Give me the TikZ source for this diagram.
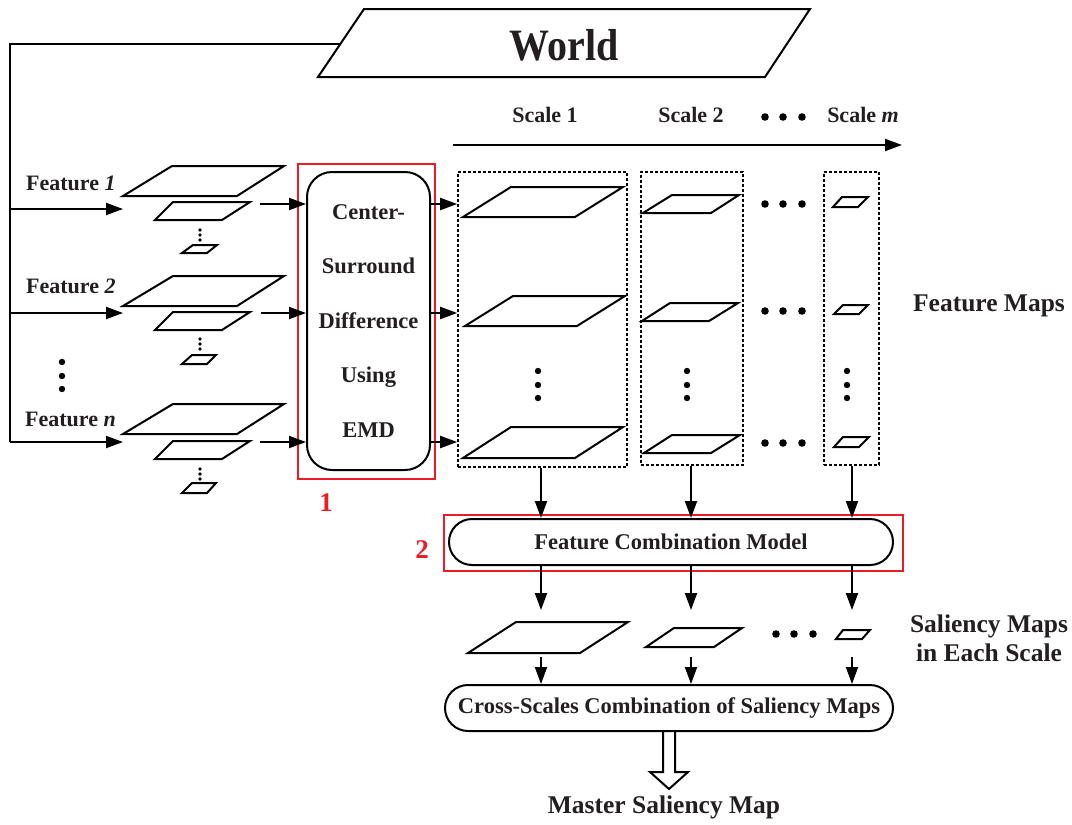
\documentclass[tikz,border=0pt]{standalone}
\usepackage{fontspec}
\setmainfont{Liberation Serif}
\usetikzlibrary{arrows.meta,calc}
\definecolor{redbox}{RGB}{237,28,36}
\definecolor{txt}{RGB}{35,31,32}
\newcommand\pgm[6]{\draw[shp] (#1,#3) -- (#2,#3) -- (#5,#6) -- (#4,#6) -- cycle;}
\begin{document}
\begin{tikzpicture}[x=1pt,y=-1pt,
  shp/.style={draw=black,line width=2pt,line join=miter},
  ln/.style={draw=black,line width=2pt},
  conn/.style={draw=black,line width=2pt,-{Triangle[length=17pt,width=12pt]}},
  lbl/.style={text=txt,font=\bfseries\fontsize{22}{26}\selectfont,inner sep=0pt},
  biglbl/.style={text=txt,font=\bfseries\fontsize{25.5}{29}\selectfont,inner sep=0pt,align=center},
  procbox/.style={draw=black,line width=2pt,text=txt,inner sep=0pt,font=\bfseries\fontsize{22.5}{26}\selectfont},
  redb/.style={draw=redbox,line width=1.6pt,inner sep=0pt},
  rednum/.style={text=redbox,font=\bfseries\fontsize{27}{30}\selectfont,inner sep=0pt},
  dashbox/.style={draw=black,line width=1.6pt,dash pattern=on 3pt off 2pt,inner sep=0pt},
  dot/.style={fill=black}
]
\useasboundingbox (0,0) rectangle (1072,825);

% World
\draw[shp] (364,9) -- (810,9) -- (765,77) -- (318,77) -- cycle;
\node[text=txt,font=\bfseries\fontsize{40}{42}\selectfont,inner sep=0pt] (world) at (564,45) {\scalebox{1}[1.12]{World}};
\coordinate (wl) at (340.5,43.5);
\coordinate (lt) at (10,43.5);
\coordinate (lb) at (10,442);

% feature labels
\node[lbl,anchor=base west] (f1) at (26,190) {Feature \textit{1}};
\node[lbl,anchor=base west] (f2) at (26,293) {Feature \textit{2}};
\node[lbl,anchor=base west] (fn) at (25,426) {Feature \textit{n}};
\foreach \y in {362,376,389} \fill[dot] (62,\y) circle (3.2pt);

% input lines
\coordinate (a1s) at (10,209); \coordinate (a1e) at (123,209);
\coordinate (a2s) at (10,313); \coordinate (a2e) at (123,313);
\coordinate (a3e) at (123,442);
\draw[ln] (wl) -- (lt) -- (lb);
\draw[conn] (a1s) -- (a1e);
\draw[conn] (a2s) -- (a2e);
\draw[conn] (lb) -- (a3e);

% feature stacks
\pgm{172}{284}{166}{123}{237}{196}
\pgm{173}{250}{202}{155}{222}{220}
\foreach \y in {230,235,240} \fill[dot] (200,\y) circle (1.8pt);
\pgm{193}{217}{245}{182}{207}{253}
\pgm{173}{284}{276}{123}{237}{306}
\pgm{173}{250}{312}{155}{222}{330}
\foreach \y in {339,344,349} \fill[dot] (200,\y) circle (1.8pt);
\pgm{192}{216}{355}{182}{207}{364}
\pgm{173}{284}{404}{123}{237}{434}
\pgm{173}{250}{441}{155}{222}{459}
\foreach \y in {469,474,479} \fill[dot] (200,\y) circle (1.8pt);
\pgm{192}{216}{483}{182}{207}{493}

% center-surround box
\node[procbox,minimum width=123pt,minimum height=298pt,rounded corners=25pt,align=center,
  font=\bfseries\fontsize{22.5}{54.5}\selectfont] (cs) at (368.5,321) {Center-\\Surround\\Difference\\Using\\EMD};
\draw[redbox,line width=1.6pt] (298,164) rectangle (435,479);
\node[rednum] (n1) at (326,503) {1};

\coordinate (r1) at (0,204); \coordinate (r2) at (0,313); \coordinate (r3) at (0,442);
\coordinate (i1) at (260,204); \coordinate (i2) at (261,313); \coordinate (i3) at (260,442);
\draw[conn] (i1) -- (cs.west |- r1);
\draw[conn] (i2) -- (cs.west |- r2);
\draw[conn] (i3) -- (cs.west |- r3);

% scale header
\node[lbl] (sc1) at (545,115) {Scale 1};
\node[lbl] (sc2) at (691,115) {Scale 2};
\node[lbl] (scm) at (863,115) {Scale \textit{m}};
\foreach \x in {765,783,802} \fill[dot] (\x,117) circle (3.8pt);
\coordinate (sa) at (453,145); \coordinate (sb) at (902,145);
\draw[conn] (sa) -- (sb);

% dashed boxes
\node[dashbox,minimum width=169pt,minimum height=295pt] (s1) at (542.5,319.5) {};
\node[dashbox,minimum width=102pt,minimum height=293pt] (s2) at (692,318.5) {};
\node[dashbox,minimum width=55pt,minimum height=293pt] (sm) at (851.5,318.5) {};

\draw[conn] (cs.east |- r1) -- (s1.west |- r1);
\draw[conn] (cs.east |- r2) -- (s1.west |- r2);
\draw[conn] (cs.east |- r3) -- (s1.west |- r3);

% feature maps
\pgm{511}{623}{187}{463}{575}{217}
\pgm{513}{625}{296}{465}{577}{326}
\pgm{511}{623}{427}{463}{575}{458}
\pgm{672}{739}{195}{643}{711}{213}
\pgm{670}{738}{303}{642}{709}{321}
\pgm{672}{740}{435}{644}{711}{453}
\pgm{842}{868}{197}{833}{858}{207}
\pgm{843}{868}{305}{834}{859}{314}
\pgm{843}{869}{437}{834}{859}{447}
\foreach \y in {204,311,443} {\foreach \x in {765,783,802} \fill[dot] (\x,\y) circle (3.8pt);}
\foreach \x in {538,687,847} {\foreach \y in {371,385,398} \fill[dot] (\x,\y) circle (3.2pt);}
\node[biglbl] (fm) at (989,306) {Feature Maps};

% feature combination model
\node[procbox,minimum width=444pt,minimum height=46pt,rounded corners=23pt] (fcm) at (671,542) {Feature Combination Model};
\draw[redbox,line width=1.6pt] (444,515) rectangle (903,571);
\node[rednum] (n2) at (422,550) {2};

\coordinate (c1) at (541,0); \coordinate (c2) at (691,0); \coordinate (c3) at (852,0);
\draw[conn] (s1.south -| c1) -- (fcm.north -| c1);
\draw[conn] (s2.south -| c2) -- (fcm.north -| c2);
\draw[conn] (sm.south -| c3) -- (fcm.north -| c3);

\coordinate (m1t) at (541,610); \coordinate (m2t) at (691,610); \coordinate (m3t) at (852,610);
\draw[conn] (fcm.south -| c1) -- (m1t);
\draw[conn] (fcm.south -| c2) -- (m2t);
\draw[conn] (fcm.south -| c3) -- (m3t);

% saliency maps
\pgm{516}{628}{622}{468}{580}{653}
\pgm{674}{742}{628}{646}{714}{647}
\pgm{843}{870}{630}{836}{862}{639}
\foreach \x in {776,794,813} \fill[dot] (\x,634) circle (3.8pt);
\node[biglbl] (smap) at (989,638) {Saliency Maps\\in Each Scale};

% cross-scales
\node[procbox,minimum width=448pt,minimum height=46pt,rounded corners=23pt] (csc) at (669,708) {Cross-Scales Combination of Saliency Maps};
\coordinate (m1b) at (541,657); \coordinate (m2b) at (691,657); \coordinate (m3b) at (852,657);
\draw[conn] (m1b) -- (csc.north -| c1);
\draw[conn] (m2b) -- (csc.north -| c2);
\draw[conn] (m3b) -- (csc.north -| c3);

% hollow arrow
\draw[shp] (663,731) -- (663,772) -- (650,772) -- (669,789) -- (688,772) -- (675,772) -- (675,731);
\node[biglbl] (master) at (664,807) {Master Saliency Map};
\end{tikzpicture}
\end{document}
